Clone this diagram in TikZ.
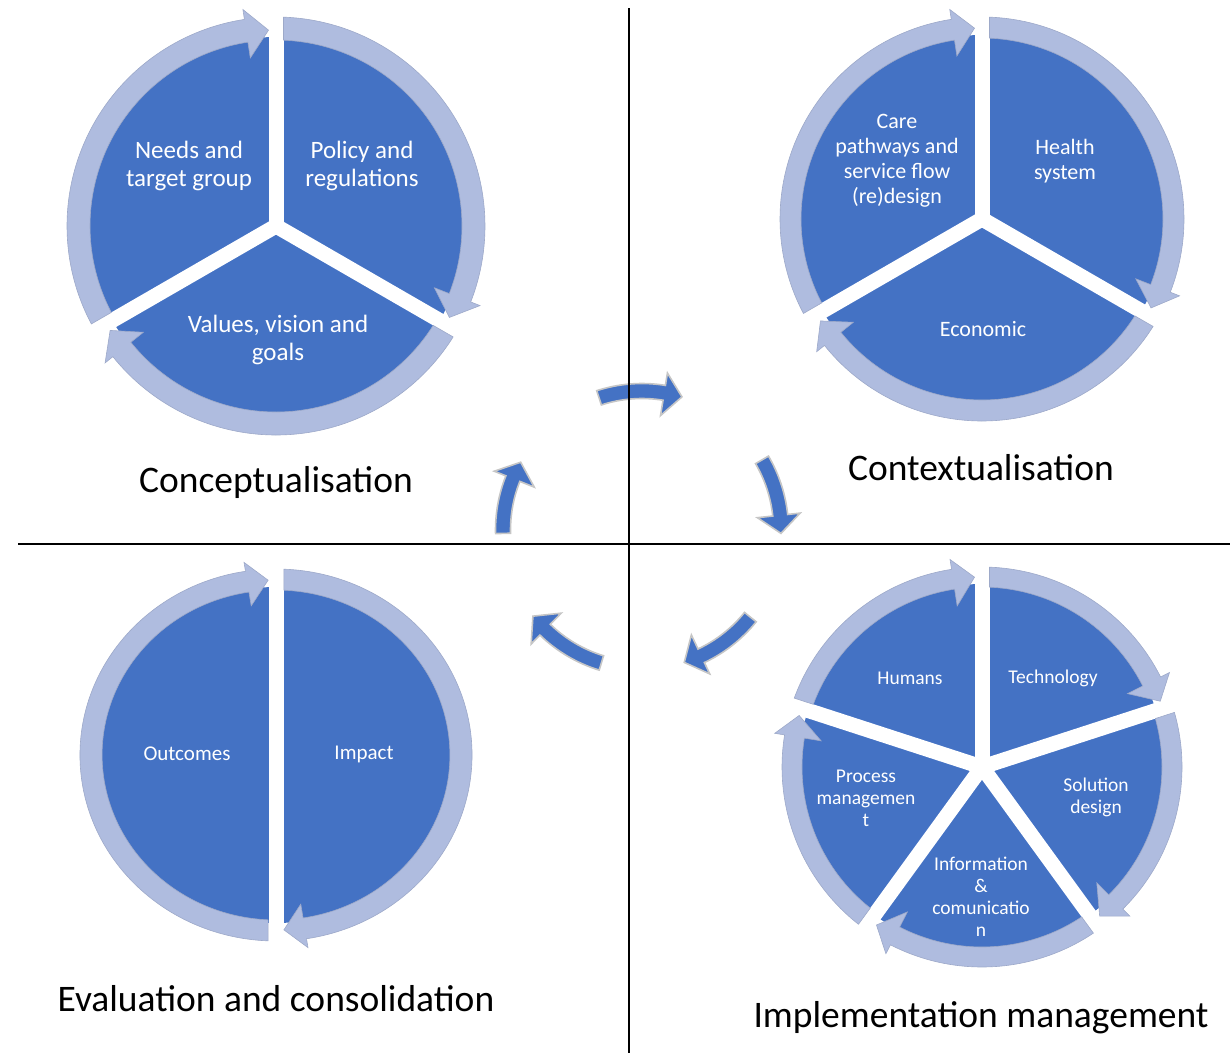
\documentclass[tikz,border=0pt]{standalone}
\usepackage{fontspec}
\setmainfont{Carlito}
\definecolor{pieblue}{HTML}{4472C4}
\definecolor{ringblue}{HTML}{AFBCDF}
\definecolor{ringedge}{HTML}{9DA9C9}

% one ring arrow of a wheel, clockwise from boundary #1 to boundary #2
\newcommand{\wheelarrow}[2]{%
  \pgfmathsetmacro\tailo{#1-asin(7.5/\rout)}
  \pgfmathsetmacro\taili{#1-asin(7.5/\rin)}
  \pgfmathsetmacro\tipa{#2+asin(7.5/\rmid)}
  \pgfmathsetmacro\backa{\tipa+6.5}
  \filldraw[ringarrow] (\tailo:\rout) arc[start angle=\tailo, end angle=\backa, radius=\rout]
    -- (\backa:\hout) -- (\tipa:\rmid) -- (\backa:\hin)
    -- (\backa:\rin) arc[start angle=\backa, end angle=\taili, radius=\rin] -- cycle;}

% one bent arrow of the middle cycle, from angle #1 to tip at #2
\newcommand{\turnarrow}[2]{%
  \pgfmathsetmacro\turnback{#2+7.5}
  \filldraw[turn] (#1:146.5) arc[start angle=#1, end angle=\turnback, radius=146.5]
    -- (\turnback:159) -- (#2:139) -- (\turnback:116) -- (\turnback:131.5)
    arc[start angle=\turnback, end angle=#1, radius=131.5] -- cycle;}

\begin{document}
\begin{tikzpicture}[x=1pt, y=1pt,
    piece/.style={fill=pieblue},
    gap/.style={draw=white, line width=15pt},
    ringarrow/.style={fill=ringblue, draw=ringedge, line width=0.6pt},
    turn/.style={fill=pieblue, draw=gray!45, line width=1.6pt},
    inlabel/.style={text=white, align=center},
    quadlabel/.style={font=\fontsize{37.5}{44}\selectfont, anchor=base}]

    \useasboundingbox (0,0) rectangle (1230,-1053);

    % conceptualisation wheel
    \begin{scope}[shift={(276,-226)}]
        \def\rout{209}\def\rin{186}\def\rmid{196}\def\hout{219}\def\hin{170}
        \fill[piece] (0,0) circle[radius=189];
        \foreach \a in {90,-30,210} \draw[gap] (0,0) -- (\a:197);
        \wheelarrow{210}{90}
        \wheelarrow{90}{-30}
        \wheelarrow{-30}{-150}
    \end{scope}
    \node[inlabel, font=\fontsize{25}{28}\selectfont] (needs) at (189,-166) {Needs and\\target group};
    \node[inlabel, font=\fontsize{25}{28}\selectfont] (policy) at (362,-166) {Policy and\\regulations};
    \node[inlabel, font=\fontsize{25}{28}\selectfont] (values) at (278,-340) {Values, vision and\\goals};

    % contextualisation wheel
    \begin{scope}[shift={(982,-219)}]
        \def\rout{202}\def\rin{181}\def\rmid{191}\def\hout{212}\def\hin{165}
        \fill[piece] (0,0) circle[radius=184];
        \foreach \a in {90,-30,210} \draw[gap] (0,0) -- (\a:192);
        \wheelarrow{210}{90}
        \wheelarrow{90}{-30}
        \wheelarrow{-30}{-150}
    \end{scope}
    \node[inlabel, font=\fontsize{22}{25}\selectfont] (care) at (897,-161) {Care\\pathways and\\service flow\\(re)design};
    \node[inlabel, font=\fontsize{22}{25}\selectfont] (health) at (1065,-161) {Health\\system};
    \node[inlabel, font=\fontsize{22}{25}\selectfont] (economic) at (983,-329) {Economic};

    % implementation wheel, five pieces
    \begin{scope}[shift={(982,-767)}]
        \def\rout{200}\def\rin{180}\def\rmid{190}\def\hout{210}\def\hin{163}
        \fill[piece] (0,0) circle[radius=183];
        \foreach \a in {90,18,-54,-126,162} \draw[gap] (0,0) -- (\a:190);
        \wheelarrow{162}{90}
        \wheelarrow{90}{18}
        \wheelarrow{18}{-54}
        \wheelarrow{-54}{-126}
        \wheelarrow{-126}{-198}
    \end{scope}
    \node[inlabel, font=\fontsize{19.5}{22}\selectfont] (humans) at (910,-678) {Humans};
    \node[inlabel, font=\fontsize{19.5}{22}\selectfont] (tech) at (1053,-678) {Technology};
    \node[inlabel, font=\fontsize{19.5}{22}\selectfont] (solution) at (1096,-797) {Solution\\design};
    \node[inlabel, font=\fontsize{19.5}{22}\selectfont] (info) at (981,-897) {Information\\\&\\comunicatio\\n};
    \node[inlabel, font=\fontsize{19.5}{22}\selectfont] (process) at (866,-798) {Process\\managemen\\t};

    % evaluation wheel, two halves, a bit wide
    \begin{scope}[shift={(276,-755)}, x=1.054pt]
        \def\rout{186}\def\rin{165}\def\rmid{175}\def\hout{195}\def\hin{151}
        \fill[piece] (0,0) circle[radius=168];
        \foreach \a in {90,270} \draw[gap] (0,0) -- (\a:176);
        \wheelarrow{270}{90}
        \wheelarrow{90}{-90}
    \end{scope}
    \node[inlabel, font=\fontsize{21}{24}\selectfont] (outcomes) at (187,-754) {Outcomes};
    \node[inlabel, font=\fontsize{21}{24}\selectfont] (impact) at (364,-754) {Impact};

    % middle cycle
    \begin{scope}[shift={(642,-530)}]
        \turnarrow{108}{73.3}
        \turnarrow{30.3}{-1.4}
        \turnarrow{-38.8}{-72.3}
        \turnarrow{-107}{-141.7}
        \turnarrow{181.4}{150.8}
    \end{scope}

    % quadrant lines
    \draw[line width=1.6pt] (629,-8) -- (629,-1053);
    \draw[line width=1.6pt] (18,-544) -- (1230,-544);

    % quadrant titles
    \node[quadlabel] (concept) at (276,-492) {Conceptualisation};
    \node[quadlabel] (context) at (981,-480) {Contextualisation};
    \node[quadlabel] (evaluation) at (276,-1011) {Evaluation and consolidation};
    \node[quadlabel] (implement) at (981,-1027) {Implementation management};
\end{tikzpicture}
\end{document}
